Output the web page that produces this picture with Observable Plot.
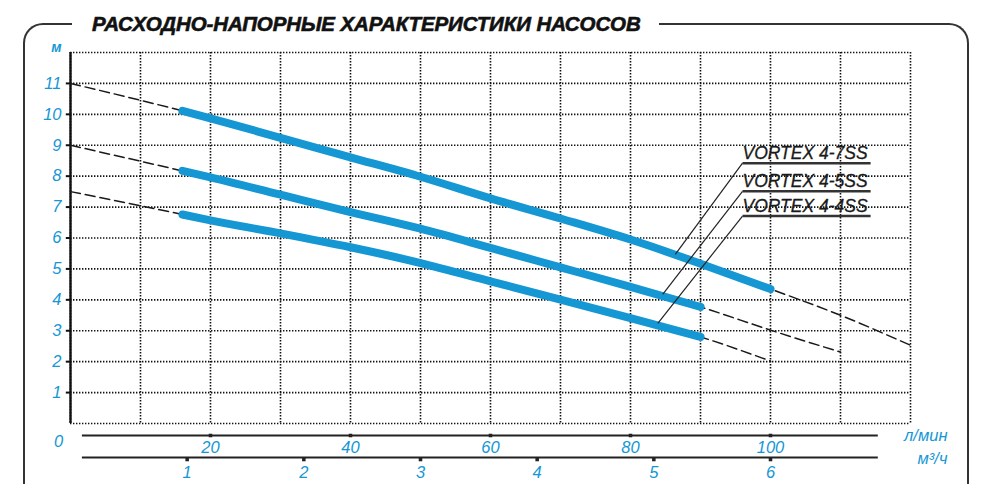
<!DOCTYPE html>
<html>
<head>
<meta charset="utf-8">
<script src="https://cdn.jsdelivr.net/npm/d3@7"></script>
<script src="https://cdn.jsdelivr.net/npm/@observablehq/plot@0.6"></script>
<style>
  html, body { margin: 0; padding: 0; background: #fff; }
  #wrap { position: relative; width: 1000px; height: 484px; overflow: hidden; font-family: "Liberation Sans", Arial, sans-serif; }
  #frame { position: absolute; left: 23px; top: 23px; width: 942px; height: 480px;
           border: 2px solid #333; border-bottom: none; border-radius: 20px 20px 0 0; }
  #chart { position: absolute; left: 0; top: 0; }
  #title { position: absolute; left: 72px; top: 10px; background: #fff; padding: 0 18px 0 20px;
           font: italic bold 20.5px "Liberation Sans", Arial, sans-serif; line-height: 28px; color: #111;
           white-space: nowrap; -webkit-text-stroke: 0.6px #111; letter-spacing: -0.1px; }
</style>
</head>
<body>
<div id="wrap">
  <div id="frame"></div>
  <div id="chart"></div>
  <div id="title">РАСХОДНО-НАПОРНЫЕ ХАРАКТЕРИСТИКИ НАСОСОВ</div>
</div>
<script>
// ---- data ----
const flow   = [0, 16, 20, 30, 40, 50, 60, 70, 80, 90, 100, 110, 120];          // л/мин
const head47 = [11, 10.11, 9.87, 9.24, 8.61, 7.98, 7.28, 6.63, 5.95, 5.17, 4.35, 3.5, 2.53];
const head45 = [9, 8.17, 7.96, 7.40, 6.84, 6.30, 5.68, 5.05, 4.42, 3.77, 3.02, 2.31, null];
const head44 = [7.5, 6.76, 6.57, 6.15, 5.70, 5.19, 4.60, 4.01, 3.41, 2.80, 2.02, null, null];
const models = ["VORTEX 4-7SS", "VORTEX 4-5SS", "VORTEX 4-4SS"];
const solidFrom = [16, 16, 16];
const solidTo   = [100, 90, 90];
const labelY     = [8.42, 7.51, 6.71];   // underline height of each label
const leaderEndX = [86.4, 84.6, 83.9];
const leaderEndY = [5.47, 4.18, 3.24];
const yTicks   = [1, 2, 3, 4, 5, 6, 7, 8, 9, 10, 11];
const lpmTicks = [20, 40, 60, 80, 100];
const m3hTicks = [1, 2, 3, 4, 5, 6];

// ---- tables ----
const heads = [head47, head45, head44];
const rows = [];
models.forEach((m, i) => flow.forEach((q, j) => {
  const h = heads[i][j];
  if (h != null) rows.push({model: m, q, h, solid: q >= solidFrom[i] && q <= solidTo[i]});
}));
const labels = models.map((m, i) => ({model: m, y: labelY[i], ex: leaderEndX[i], ey: leaderEndY[i]}));

const blue = "#1597d4";
const grid = {stroke: "#111", strokeOpacity: 1, strokeWidth: 1.6, strokeDasharray: "1.4,1.6"};
const lbl = {fill: blue, fontSize: 16.5, fontStyle: "italic"};
const L0 = 1.7, L1 = 115.4;   // extent of the two bottom scale lines (л/мин units)

const chart = Plot.plot({
  width: 1000, height: 484,
  marginLeft: 70, marginRight: 90, marginTop: 52, marginBottom: 61,
  x: {domain: [0, 120], axis: null},
  y: {domain: [0, 12], axis: null},
  style: {fontFamily: "Liberation Sans, Arial, sans-serif", background: "transparent", overflow: "visible"},
  marks: [
    Plot.gridX(d3.range(0, 121, 10), grid),
    Plot.gridY(d3.range(0, 13, 1), grid),
    Plot.ruleX([0], {stroke: "#111", strokeWidth: 2.4}),
    Plot.ruleY(yTicks, {x1: -0.6, x2: 0, stroke: "#111", strokeWidth: 2}),
    Plot.text(yTicks, {x: 0, y: d => d, text: d => String(d), dx: -9, textAnchor: "end", ...lbl}),
    Plot.text(["м"], {x: 0, y: 12, dx: -14, dy: -5, text: d => d, ...lbl, fontSize: 14, fontWeight: "bold"}),
    Plot.text(["0"], {x: 0, y: 0, dx: -12, dy: 18, text: d => d, ...lbl}),
    // dashed full characteristic
    Plot.line(rows, {x: "q", y: "h", z: "model", stroke: "#1a1a1a", strokeWidth: 1.5, strokeDasharray: "10,5", curve: "monotone-x"}),
    // working range
    Plot.line(rows.filter(d => d.solid), {x: "q", y: "h", z: "model", stroke: blue, strokeWidth: 8, curve: "monotone-x"}),
    // label leaders & underlines
    Plot.link(labels, {x1: 96, y1: "y", x2: "ex", y2: "ey", stroke: "#222", strokeWidth: 1.2}),
    Plot.link(labels, {x1: 96, y1: "y", x2: 114.3, y2: "y", stroke: "#333", strokeWidth: 2.4}),
    Plot.text(labels, {x: 96, y: "y", text: "model", dy: -10, textAnchor: "start", fill: "#1a1a1a", fontSize: 17.5, fontStyle: "italic", stroke: "#1a1a1a", strokeWidth: 0.3}),
    // bottom scales
    Plot.ruleY([0], {x1: L0, x2: L1, dy: 12, stroke: "#222", strokeWidth: 2}),
    Plot.ruleY([0], {x1: L0, x2: L1, dy: 34, stroke: "#222", strokeWidth: 2}),
    Plot.dot(lpmTicks, {x: d => d, y: 0, dy: 12, r: 2, symbol: "square", fill: "#222"}),
    Plot.text(lpmTicks, {x: d => d, y: 0, dy: 24, text: d => String(d), ...lbl}),
    Plot.dot(m3hTicks, {x: d => d * 1000 / 60, y: 0, dy: 36, r: 2, symbol: "square", fill: "#222"}),
    Plot.text(m3hTicks, {x: d => d * 1000 / 60, y: 0, dy: 49, text: d => String(d), ...lbl}),
    Plot.text(["л/мин"], {x: 120, y: 0, dx: 37, dy: 12, text: d => d, textAnchor: "end", ...lbl}),
    Plot.text(["м³/ч"], {x: 120, y: 0, dx: 37, dy: 35, text: d => d, textAnchor: "end", ...lbl})
  ]
});
document.getElementById("chart").appendChild(chart);
</script>
</body>
</html>
